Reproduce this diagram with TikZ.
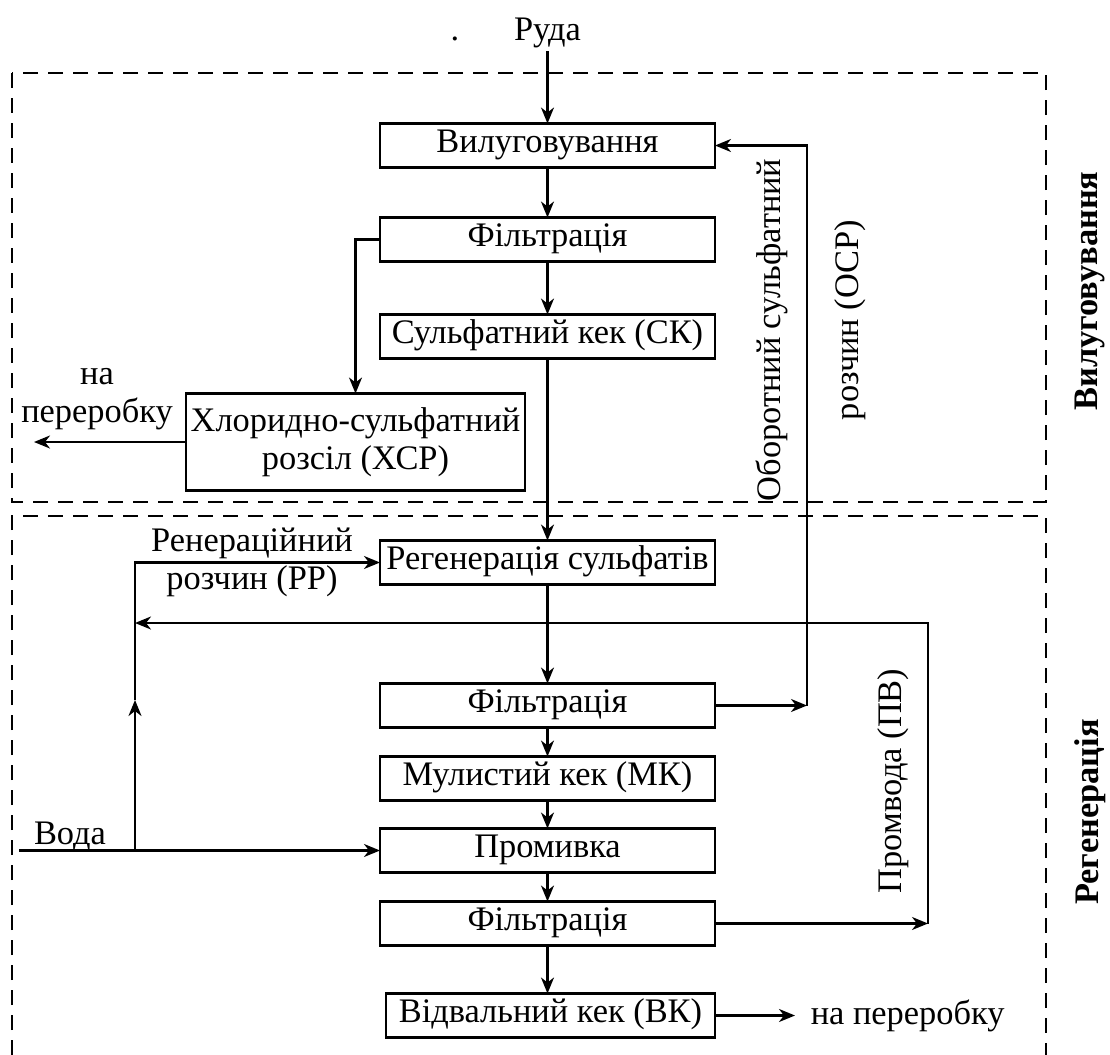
\documentclass[tikz,border=0pt]{standalone}
\usepackage{fontspec}
\setmainfont{Liberation Serif}
\usetikzlibrary{arrows.meta,positioning}

\begin{document}
\begin{tikzpicture}[>={Stealth[length=8pt,width=6.5pt,inset=2.5pt]},x=0.5pt,y=-0.5pt,line width=1.1pt,font=\fontsize{17.2}{19}\selectfont]
        \tikzset{box/.style= {draw, rectangle, align=center,minimum width=167.5pt,minimum height=22pt,inner sep=2pt,outer sep=0pt},
        block/.style={box, inner ysep=0pt, text height=0.9em, text depth=0.24em},
        zone/.style={draw, dash pattern=on 7.5pt off 5pt, line width=1.4pt},
        side/.style={rotate=90, font=\fontsize{17.2}{19}\selectfont\bfseries}
        }
        \useasboundingbox (0,0) rectangle (1110,1055);

%% zones
        \draw[zone] (12,73) rectangle (1046,502);
        \draw[zone] (12,1055) -- (12,516) -- (1046,516) -- (1046,1055);

        \node[inner sep=1pt] (ruda) at (547.5,33) {Руда};
        \node[base left=22pt of ruda] (dot) {.};
        \node[block] (vyl) at (547.5,145.5) {Вилуговування};
        \node[block, below =25pt of vyl] (filt1) {Фільтрація};
        \node[block, below =26.5pt of filt1] (sk) {Сульфатний кек (СК)};
        \node[box, minimum width=169.5pt, minimum height=48.5pt] (xsr) at (355.5,442) {Хлоридно-сульфатний\\розсіл (ХСР)};
        \node[block, below =91pt of sk] (regen) {Регенерація сульфатів};
        \node[block, below =49.5pt of regen] (filt2) {Фільтрація};
        \node[block, below =14.5pt of filt2] (mk) {Мулистий кек (МК)};
        \node[block, below =14pt of mk] (prom) {Промивка};
        \node[block, below =14.5pt of prom] (filt3) {Фільтрація};
        \node[block, below =24pt of filt3, minimum width=164.5pt, xshift=1.5pt] (vk) {Відвальний кек (ВК)};

        \node[align=center] (out1) at (97,399) {на\\переробку};
        \node[align=center] (rr) at (252,562) {Ренераційний\\розчин (РР)};
        \node (voda) at (70,837) {Вода};
        \node[rotate=90] (osr1) at (772,330) {Оборотний сульфатний};
        \node[rotate=90] (osr2) at (850,320) {розчин (ОСР)};
        \node[rotate=90] (pv) at (893,781) {Промвода (ПВ)};
        \node[side] (zone1) at (1090,291) {Вилуговування};
        \node[side] (zone2) at (1090,812) {Регенерація};

        % return lines and free ends
        \coordinate (leftcol) at (135,0);
        \coordinate (osrcol) at (807,0);
        \coordinate (pvcol) at (928,0);
        \coordinate (xsrout) at (xsr.west -| 34,0);
        \coordinate (waterin) at (prom.west -| 19,0);
        \coordinate (split) at (prom.west -| leftcol);
        \coordinate (upmid) at (135,700);
        \coordinate (osrbot) at (filt2.east -| osrcol);
        \coordinate (pvbot) at (filt3.east -| pvcol);
        \coordinate (pvend) at (135,623);
        \coordinate (vkout) at (vk.east -| 795,0);
        \node[right =4pt of vkout] (out2) {на переробку};

%% paths
        \path[->] (ruda) edge (vyl)
                    (vyl) edge (filt1)
                    (filt1) edge (sk)
                    (sk) edge (regen)
                    (regen) edge (filt2)
                    (filt2) edge (mk)
                    (mk) edge (prom)
                    (prom) edge (filt3)
                    (filt3) edge (filt3.south |- vk.north)
                    (vk) edge (vkout)
                    (xsr) edge (xsrout)
                    (waterin) edge (prom)
                    (filt2) edge (osrbot)
                    (filt3) edge (pvbot)
                    (split) edge (upmid)
                    ;
        \draw[->] (filt1.west) -| (xsr.north);
        \draw[->] (osrbot) |- (vyl.east);
        \draw[->] (pvbot) |- (pvend);
        \draw[->] (upmid) |- (regen.west);
\end{tikzpicture}
\end{document}
